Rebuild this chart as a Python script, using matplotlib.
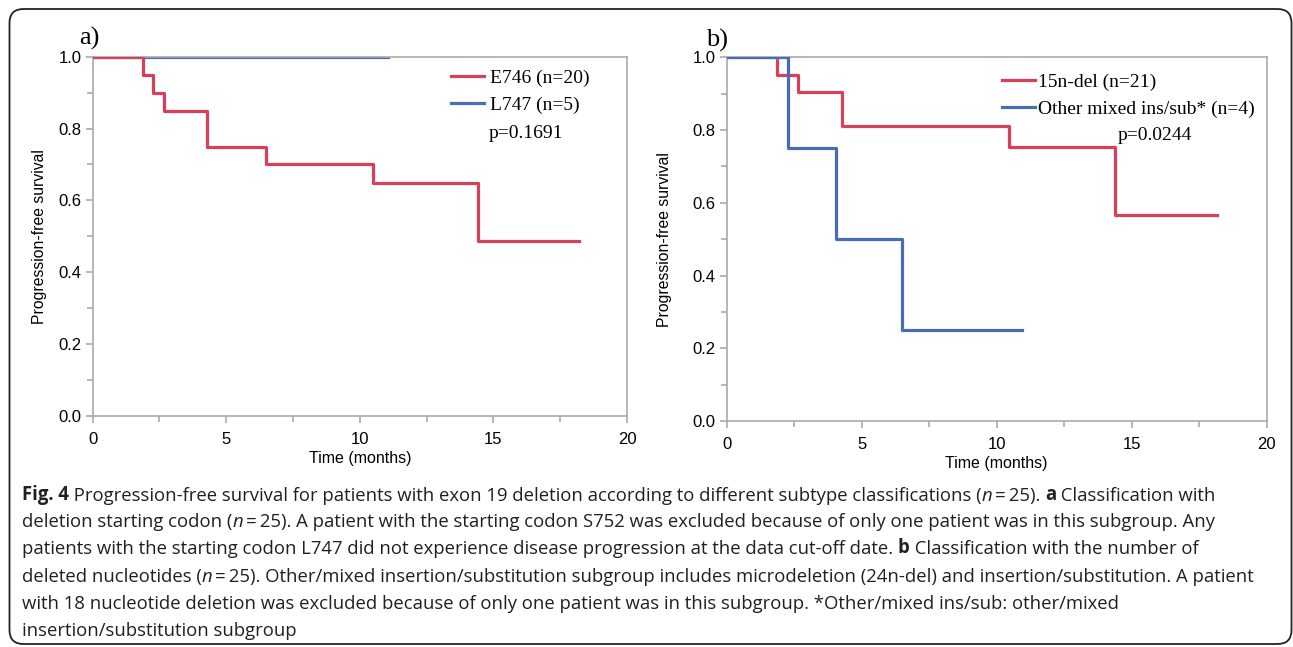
import numpy as np
import matplotlib
matplotlib.use("Agg")
import matplotlib.pyplot as plt
from matplotlib.patches import FancyBboxPatch

# Kaplan-Meier steps
# a) deletion starting codon
a_e746_t = [0, 1.89, 2.27, 2.68, 4.28, 6.49, 10.49, 14.41, 18.19]
a_e746_s = [1.0, 0.95, 0.90, 0.85, 0.75, 0.70, 0.648, 0.486, 0.486]
a_l747_t = [0, 11.05]
a_l747_s = [1.0, 1.0]
# b) number of deleted nucleotides
b_15n_t = [0, 1.88, 2.66, 4.29, 10.46, 14.38, 18.17]
b_15n_s = [1.0, 0.952, 0.905, 0.810, 0.754, 0.566, 0.566]
b_oth_t = [0, 2.27, 4.04, 6.48, 10.95]
b_oth_s = [1.0, 0.75, 0.50, 0.25, 0.25]

labels_a = ['E746 (n=20)', 'L747 (n=5)']
labels_b = ['15n-del (n=21)', 'Other mixed ins/sub* (n=4)']
p_a = 'p=0.1691'
p_b = 'p=0.0244'

RED = '#d8405a'
BLUE = '#4a6cb6'
GRAY = '#aaaaaa'

W, H = 1293, 647
fig = plt.figure(figsize=(W / 100, H / 100), dpi=100)

sans = ['Liberation Sans', 'DejaVu Sans']
serif = ['Liberation Serif', 'DejaVu Serif']


def px_axes(l, r, t, b):
    return fig.add_axes([l / W, (H - b) / H, (r - l) / W, (b - t) / H])


def style_axes(ax, ypad):
    ax.set_xlim(0, 20)
    ax.set_ylim(0, 1.0)
    ax.set_xticks([0, 5, 10, 15, 20])
    ax.set_xticks(np.arange(0, 20.1, 2.5), minor=True)
    ax.set_yticks(np.arange(0, 1.01, 0.2))
    ax.set_yticks(np.arange(0, 1.01, 0.1), minor=True)
    ax.set_yticklabels(['%.1f' % v for v in np.arange(0, 1.01, 0.2)])
    for s in ax.spines.values():
        s.set_color(GRAY)
        s.set_linewidth(1.2)
    ax.tick_params(which='both', color=GRAY, width=1.2, direction='out')
    ax.tick_params(which='major', length=5, labelsize=12)
    ax.tick_params(axis='y', which='major', pad=3)
    ax.tick_params(axis='x', which='major', pad=6.5)
    ax.tick_params(which='minor', length=4)
    for lab in ax.get_xticklabels() + ax.get_yticklabels():
        lab.set_family(sans)
    ax.set_xlabel('Time (months)', family=sans, fontsize=11.5, labelpad=3)
    ax.set_ylabel('Progression-free survival', family=sans, fontsize=11.3, labelpad=ypad)


# ---- panel a
ax1 = px_axes(92.6, 627, 56.7, 416)
style_axes(ax1, 8)
ax1.step(a_e746_t, a_e746_s, where='post', color=RED, lw=2.3, label=labels_a[0], zorder=3)
ax1.step(a_l747_t, a_l747_s, where='post', color=BLUE, lw=2.3, label=labels_a[1], zorder=2)
ax1.legend(loc='upper left', bbox_to_anchor=(0.671, 0.966), frameon=False,
           borderpad=0, borderaxespad=0, handlelength=1.7, handletextpad=0.3,
           labelspacing=0.5, prop={'family': serif, 'size': 14})
ax1.text(0.742, 0.785, p_a, transform=ax1.transAxes, family=serif, fontsize=14,
         va='center', ha='left')
ax1.text(-0.025, 1.02, 'a)', transform=ax1.transAxes, family=serif, fontsize=19,
         va='bottom', ha='left')

# ---- panel b
ax2 = px_axes(726.6, 1266.8, 57.3, 421)
style_axes(ax2, 15)
ax2.step(b_15n_t, b_15n_s, where='post', color=RED, lw=2.3, label=labels_b[0], zorder=3)
ax2.step(b_oth_t, b_oth_s, where='post', color=BLUE, lw=2.3, label=labels_b[1], zorder=3)
ax2.legend(loc='upper left', bbox_to_anchor=(0.510, 0.957), frameon=False,
           borderpad=0, borderaxespad=0, handlelength=1.7, handletextpad=0.15,
           labelspacing=0.5, prop={'family': serif, 'size': 14})
ax2.text(0.7245, 0.786, p_b, transform=ax2.transAxes, family=serif, fontsize=14,
         va='center', ha='left')
ax2.text(-0.038, 1.015, 'b)', transform=ax2.transAxes, family=serif, fontsize=19,
         va='bottom', ha='left')

# ---- caption and frame, drawn in pixel coordinates
cap = fig.add_axes([0, 0, 1, 1], zorder=-1)
cap.set_xlim(0, W)
cap.set_ylim(H, 0)
cap.axis('off')
cap.add_patch(FancyBboxPatch((9.5, 9), W - 11, H - 12,
                             boxstyle='round,pad=0,rounding_size=14',
                             fc='none', ec='#222222', lw=1.3))

cfont = ['Open Sans', 'DejaVu Sans']
csize = 13.35
R, B, I = 'normal', 'bold', 'italic'
caption = [
    [('Fig. 4', B), (' Progression-free survival for patients with exon 19 deletion according to different subtype classifications (', R),
     ('n', I), ('\u2009=\u200925). ', R), ('a', B), (' Classification with', R)],
    [('deletion starting codon (', R), ('n', I),
     ('\u2009=\u200925). A patient with the starting codon S752 was excluded because of only one patient was in this subgroup. Any', R)],
    [('patients with the starting codon L747 did not experience disease progression at the data cut-off date. ', R),
     ('b', B), (' Classification with the number of', R)],
    [('deleted nucleotides (', R), ('n', I),
     ('\u2009=\u200925). Other/mixed insertion/substitution subgroup includes microdeletion (24n-del) and insertion/substitution. A patient', R)],
    [('with 18 nucleotide deletion was excluded because of only one patient was in this subgroup. *Other/mixed ins/sub: other/mixed', R)],
    [('insertion/substitution subgroup', R)],
]
line_y = [495, 522, 549, 577, 604, 631]


def kw(kind):
    d = dict(family=cfont, fontsize=csize, color='#231f20')
    if kind == B:
        d['weight'] = 'bold'
    elif kind == I:
        d['style'] = 'italic'
    return d


for parts, y in zip(caption, line_y):
    prev = cap.text(22, y, parts[0][0], va='center', ha='left', **kw(parts[0][1]))
    for txt, kind in parts[1:]:
        prev = cap.annotate(txt, xy=(1, 0), xycoords=prev, va='bottom', ha='left',
                            **kw(kind))

fig.savefig('out.png', dpi=100)
